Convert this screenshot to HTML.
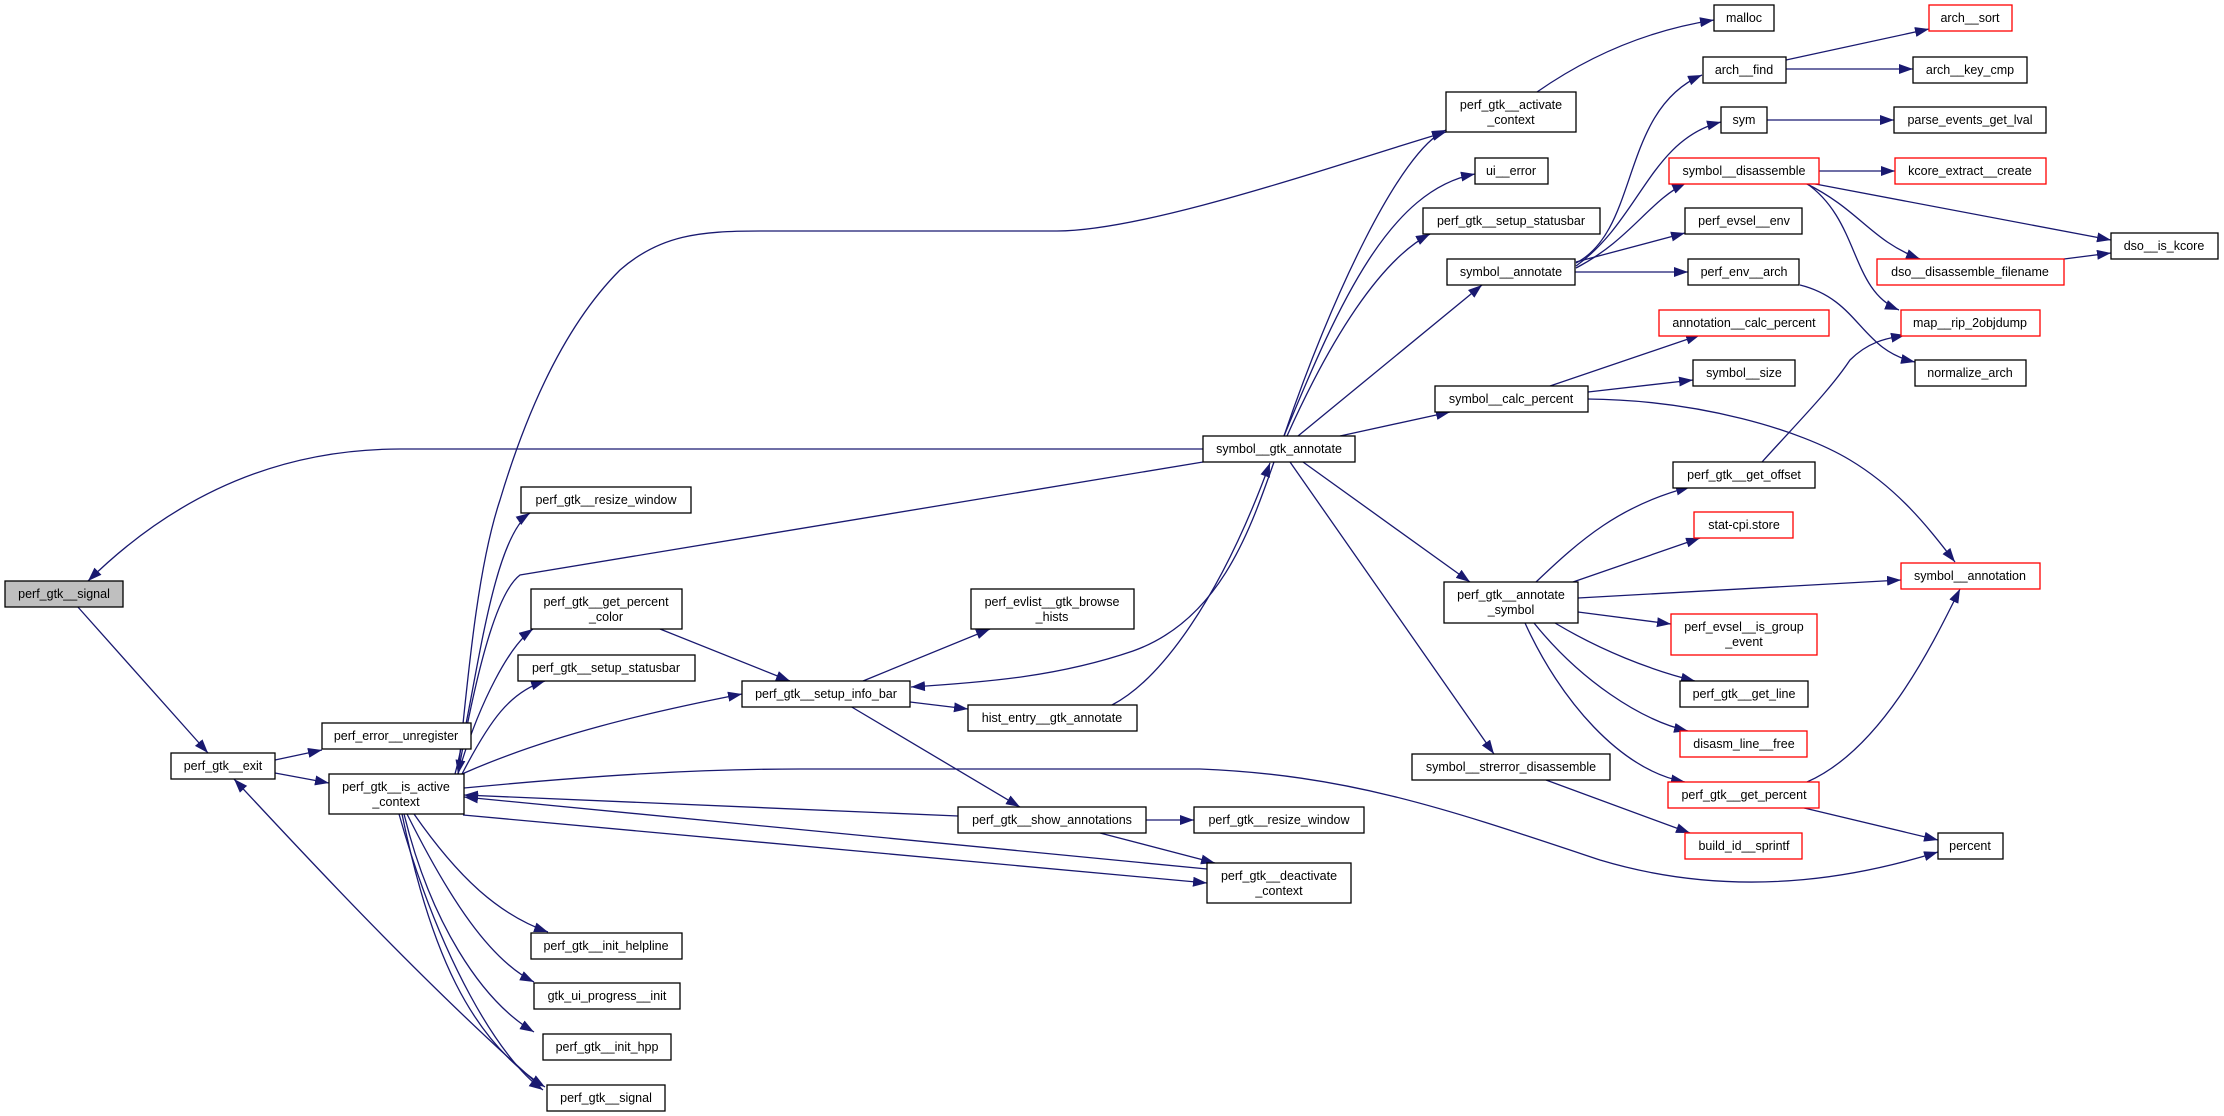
<!DOCTYPE html>
<html><head><meta charset="utf-8"><style>
html,body{margin:0;padding:0;background:#fff;}
svg{display:block}
text{font-family:"Liberation Sans",sans-serif;font-size:12.5px;fill:#000;text-anchor:middle}
.n{fill:#fff;stroke:#000;stroke-width:1.3}
.r{fill:#fff;stroke:#ff0000;stroke-width:1.3}
.g{fill:#bfbfbf;stroke:#000;stroke-width:1.3}
.e{fill:none;stroke:#191970;stroke-width:1.3}
</style></head><body>
<svg width="2224" height="1116" viewBox="0 0 2224 1116" xmlns="http://www.w3.org/2000/svg">
<defs><marker id="a" markerUnits="userSpaceOnUse" markerWidth="16" markerHeight="12" refX="14" refY="5" orient="auto"><path d="M0,0 L14,5 L0,10 z" fill="#191970"/></marker></defs>
<g marker-end="url(#a)">
<path class="e" d="M1203,449 L400,449 C250,449 150,520 88,581"/>
<path class="e" d="M77,606 L208,753"/>
<path class="e" d="M540,1086 C420,980 300,850 234,779"/>
<path class="e" d="M275,760 L322,750"/>
<path class="e" d="M275,773 L329,783"/>
<path class="e" d="M455,774 C475,700 490,540 530,513"/>
<path class="e" d="M458,774 C480,700 510,645 533,629"/>
<path class="e" d="M462,774 C490,720 510,692 545,681"/>
<path class="e" d="M462,774 C550,735 650,712 742,694"/>
<path class="e" d="M458,774 C470,650 480,560 500,500 C530,400 570,320 620,270 C660,235 700,231 760,231 L1057,231 C1150,231 1350,160 1446,132"/>
<path class="e" d="M1203,462 L520,575 C500,590 480,650 458,774"/>
<path class="e" d="M464,788 C600,775 700,769 800,769 L1200,769 C1350,775 1450,810 1600,860 C1750,905 1880,870 1938,852"/>
<path class="e" d="M958,816 L464,795"/>
<path class="e" d="M1207,869 L464,797"/>
<path class="e" d="M463,815 L1207,883"/>
<path class="e" d="M1100,833 L1215,863"/>
<path class="e" d="M1146,820 L1194,820"/>
<path class="e" d="M660,629 L790,681"/>
<path class="e" d="M863,681 L990,629"/>
<path class="e" d="M910,702 L968,709"/>
<path class="e" d="M850,706 L1020,807"/>
<path class="e" d="M1274,462 C1250,530 1220,620 1133,651 C1060,676 990,682 911,687"/>
<path class="e" d="M1112,705 C1160,680 1220,600 1270,463"/>
<path class="e" d="M414,814 C460,880 500,915 548,932"/>
<path class="e" d="M407,814 C450,900 490,960 534,982"/>
<path class="e" d="M404,814 C430,920 480,1000 534,1032"/>
<path class="e" d="M402,814 C430,950 470,1040 545,1087"/>
<path class="e" d="M399,814 C440,960 500,1060 543,1090"/>
<path class="e" d="M1284,436 C1330,300 1400,150 1446,130"/>
<path class="e" d="M1284,436 C1340,300 1390,190 1475,174"/>
<path class="e" d="M1287,436 C1330,340 1380,260 1430,234"/>
<path class="e" d="M1298,436 L1482,285"/>
<path class="e" d="M1340,436 L1450,412"/>
<path class="e" d="M1303,462 L1470,582"/>
<path class="e" d="M1290,462 L1494,754"/>
<path class="e" d="M1537,92 C1590,55 1650,30 1714,20"/>
<path class="e" d="M1576,263 C1640,230 1620,110 1702,75"/>
<path class="e" d="M1576,266 C1640,220 1650,140 1721,122"/>
<path class="e" d="M1576,268 C1630,240 1650,200 1686,183"/>
<path class="e" d="M1576,262 L1685,233"/>
<path class="e" d="M1575,272 L1688,272"/>
<path class="e" d="M1786,60 L1929,29"/>
<path class="e" d="M1786,69 L1913,69"/>
<path class="e" d="M1767,120 L1894,120"/>
<path class="e" d="M1819,171 L1895,171"/>
<path class="e" d="M1810,183 L2111,240"/>
<path class="e" d="M1805,183 C1860,210 1870,240 1920,259"/>
<path class="e" d="M1806,183 C1860,220 1850,290 1899,310"/>
<path class="e" d="M2064,259 L2111,253"/>
<path class="e" d="M1800,285 C1860,300 1860,350 1915,362"/>
<path class="e" d="M1550,386 L1700,335"/>
<path class="e" d="M1588,392 L1693,380"/>
<path class="e" d="M1587,399 C1700,400 1800,430 1850,460 C1900,490 1930,530 1955,562"/>
<path class="e" d="M1536,582 C1580,540 1620,505 1690,487"/>
<path class="e" d="M1573,582 L1700,538"/>
<path class="e" d="M1578,598 L1901,580"/>
<path class="e" d="M1578,612 L1671,624"/>
<path class="e" d="M1555,623 C1600,650 1650,670 1695,681"/>
<path class="e" d="M1534,623 C1580,680 1640,720 1688,731"/>
<path class="e" d="M1525,623 C1560,700 1620,770 1685,782"/>
<path class="e" d="M1762,462 C1800,420 1830,390 1850,360 C1870,340 1890,338 1905,335"/>
<path class="e" d="M1807,782 C1880,750 1930,650 1960,589"/>
<path class="e" d="M1800,807 L1938,840"/>
<path class="e" d="M1546,780 L1690,833"/>
</g>
<g>
<rect class="g" x="5" y="581" width="118" height="26"/><text x="64" y="598">perf_gtk__signal</text>
<rect class="n" x="171" y="753" width="104" height="26"/><text x="223" y="770">perf_gtk__exit</text>
<rect class="n" x="322" y="723" width="149" height="26"/><text x="396" y="740">perf_error__unregister</text>
<rect class="n" x="329" y="774" width="135" height="40"/><text x="396" y="791">perf_gtk__is_active</text><text x="396" y="806">_context</text>
<rect class="n" x="521" y="487" width="170" height="26"/><text x="606" y="504">perf_gtk__resize_window</text>
<rect class="n" x="531" y="589" width="151" height="40"/><text x="606" y="606">perf_gtk__get_percent</text><text x="606" y="621">_color</text>
<rect class="n" x="518" y="655" width="177" height="26"/><text x="606" y="672">perf_gtk__setup_statusbar</text>
<rect class="n" x="531" y="933" width="151" height="26"/><text x="606" y="950">perf_gtk__init_helpline</text>
<rect class="n" x="534" y="983" width="146" height="26"/><text x="607" y="1000">gtk_ui_progress__init</text>
<rect class="n" x="543" y="1034" width="128" height="26"/><text x="607" y="1051">perf_gtk__init_hpp</text>
<rect class="n" x="547" y="1085" width="118" height="26"/><text x="606" y="1102">perf_gtk__signal</text>
<rect class="n" x="742" y="681" width="168" height="26"/><text x="826" y="698">perf_gtk__setup_info_bar</text>
<rect class="n" x="971" y="589" width="163" height="40"/><text x="1052" y="606">perf_evlist__gtk_browse</text><text x="1052" y="621">_hists</text>
<rect class="n" x="968" y="705" width="169" height="26"/><text x="1052" y="722">hist_entry__gtk_annotate</text>
<rect class="n" x="958" y="807" width="188" height="26"/><text x="1052" y="824">perf_gtk__show_annotations</text>
<rect class="n" x="1194" y="807" width="170" height="26"/><text x="1279" y="824">perf_gtk__resize_window</text>
<rect class="n" x="1207" y="863" width="144" height="40"/><text x="1279" y="880">perf_gtk__deactivate</text><text x="1279" y="895">_context</text>
<rect class="n" x="1203" y="436" width="152" height="26"/><text x="1279" y="453">symbol__gtk_annotate</text>
<rect class="n" x="1446" y="92" width="130" height="40"/><text x="1511" y="109">perf_gtk__activate</text><text x="1511" y="124">_context</text>
<rect class="n" x="1475" y="158" width="73" height="26"/><text x="1511" y="175">ui__error</text>
<rect class="n" x="1423" y="208" width="177" height="26"/><text x="1511" y="225">perf_gtk__setup_statusbar</text>
<rect class="n" x="1447" y="259" width="128" height="26"/><text x="1511" y="276">symbol__annotate</text>
<rect class="n" x="1435" y="386" width="153" height="26"/><text x="1511" y="403">symbol__calc_percent</text>
<rect class="n" x="1444" y="582" width="134" height="41"/><text x="1511" y="599">perf_gtk__annotate</text><text x="1511" y="614">_symbol</text>
<rect class="n" x="1412" y="754" width="198" height="26"/><text x="1511" y="771">symbol__strerror_disassemble</text>
<rect class="n" x="1714" y="5" width="60" height="26"/><text x="1744" y="22">malloc</text>
<rect class="n" x="1703" y="57" width="83" height="26"/><text x="1744" y="74">arch__find</text>
<rect class="n" x="1721" y="107" width="46" height="26"/><text x="1744" y="124">sym</text>
<rect class="r" x="1669" y="158" width="150" height="26"/><text x="1744" y="175">symbol__disassemble</text>
<rect class="n" x="1685" y="208" width="117" height="26"/><text x="1744" y="225">perf_evsel__env</text>
<rect class="n" x="1688" y="259" width="111" height="26"/><text x="1744" y="276">perf_env__arch</text>
<rect class="r" x="1659" y="310" width="170" height="26"/><text x="1744" y="327">annotation__calc_percent</text>
<rect class="n" x="1693" y="360" width="102" height="26"/><text x="1744" y="377">symbol__size</text>
<rect class="n" x="1673" y="462" width="142" height="26"/><text x="1744" y="479">perf_gtk__get_offset</text>
<rect class="r" x="1694" y="512" width="99" height="26"/><text x="1744" y="529">stat-cpi.store</text>
<rect class="r" x="1671" y="614" width="146" height="41"/><text x="1744" y="631">perf_evsel__is_group</text><text x="1744" y="646">_event</text>
<rect class="n" x="1680" y="681" width="128" height="26"/><text x="1744" y="698">perf_gtk__get_line</text>
<rect class="r" x="1680" y="731" width="127" height="26"/><text x="1744" y="748">disasm_line__free</text>
<rect class="r" x="1668" y="782" width="151" height="26"/><text x="1744" y="799">perf_gtk__get_percent</text>
<rect class="r" x="1685" y="833" width="117" height="26"/><text x="1744" y="850">build_id__sprintf</text>
<rect class="r" x="1929" y="5" width="83" height="26"/><text x="1970" y="22">arch__sort</text>
<rect class="n" x="1913" y="57" width="114" height="26"/><text x="1970" y="74">arch__key_cmp</text>
<rect class="n" x="1894" y="107" width="152" height="26"/><text x="1970" y="124">parse_events_get_lval</text>
<rect class="r" x="1895" y="158" width="151" height="26"/><text x="1970" y="175">kcore_extract__create</text>
<rect class="r" x="1877" y="259" width="187" height="26"/><text x="1970" y="276">dso__disassemble_filename</text>
<rect class="r" x="1901" y="310" width="139" height="26"/><text x="1970" y="327">map__rip_2objdump</text>
<rect class="n" x="1915" y="360" width="111" height="26"/><text x="1970" y="377">normalize_arch</text>
<rect class="r" x="1901" y="563" width="139" height="26"/><text x="1970" y="580">symbol__annotation</text>
<rect class="n" x="1938" y="833" width="65" height="26"/><text x="1970" y="850">percent</text>
<rect class="n" x="2111" y="233" width="107" height="26"/><text x="2164" y="250">dso__is_kcore</text>
</g>
</svg>
</body></html>
